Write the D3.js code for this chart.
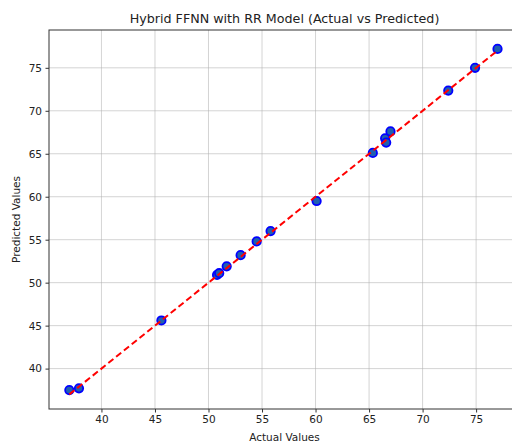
<!DOCTYPE html>
<html>
<head>
<meta charset="utf-8">
<script src="https://cdn.jsdelivr.net/npm/d3@7"></script>
<style>
  body { margin: 0; background: #fff; }
  svg { display: block; font-family: "DejaVu Sans", sans-serif; }
</style>
</head>
<body>
<svg id="chart" width="512" height="444"></svg>
<script>
// actual vs predicted
const actual    = [37.0, 37.9, 45.6, 50.8, 51.0, 51.7, 53.0, 54.5, 55.8, 60.1, 65.35, 66.5, 66.6, 67.0, 72.4, 74.9, 77.0];
const predicted = [37.5, 37.7, 45.6, 50.9, 51.1, 51.9, 53.2, 54.8, 56.0, 59.5, 65.1, 66.8, 66.3, 67.6, 72.35, 75.0, 77.2];
const xTicks = [40, 45, 50, 55, 60, 65, 70, 75];
const yTicks = [40, 45, 50, 55, 60, 65, 70, 75];

const points = actual.map((a, i) => ({ a, p: predicted[i] }));

const svg = d3.select("#chart");
const plot = { left: 49, right: 520, top: 30, bottom: 409 };

const x = d3.scaleLinear().domain([35.1, 79.1]).range([plot.left, plot.right]);
const y = d3.scaleLinear().domain([35.3, 79.4]).range([plot.bottom, plot.top]);

// grid
svg.append("g").selectAll("line").data(xTicks).join("line")
  .attr("x1", d => x(d)).attr("x2", d => x(d))
  .attr("y1", plot.top).attr("y2", plot.bottom)
  .attr("stroke", "#b0b0b0").attr("stroke-opacity", 0.55).attr("stroke-width", 1);
svg.append("g").selectAll("line").data(yTicks).join("line")
  .attr("y1", d => y(d)).attr("y2", d => y(d))
  .attr("x1", plot.left).attr("x2", plot.right)
  .attr("stroke", "#b0b0b0").attr("stroke-opacity", 0.55).attr("stroke-width", 1);

// axes
const xAxis = svg.append("g")
  .attr("transform", `translate(0,${plot.bottom})`)
  .call(d3.axisBottom(x).tickValues(xTicks).tickSize(3.5).tickPadding(3.5));
const yAxis = svg.append("g")
  .attr("transform", `translate(${plot.left},0)`)
  .call(d3.axisLeft(y).tickValues(yTicks).tickSize(3.5).tickPadding(3.5));

[xAxis, yAxis].forEach(g => {
  g.select(".domain").remove();
  g.selectAll("line").attr("stroke", "#333");
  g.selectAll("text").attr("font-size", 10.5).attr("fill", "#222")
    .attr("font-family", "DejaVu Sans, sans-serif");
});

// frame
svg.append("rect")
  .attr("x", plot.left).attr("y", plot.top)
  .attr("width", plot.right - plot.left).attr("height", plot.bottom - plot.top)
  .attr("fill", "none").attr("stroke", "#333").attr("stroke-width", 1);

// points
svg.append("g").selectAll("circle").data(points).join("circle")
  .attr("cx", d => x(d.a)).attr("cy", d => y(d.p))
  .attr("r", 4.2)
  .attr("fill", "#1f5fb0")
  .attr("stroke", "#0000ff").attr("stroke-width", 1.8);

// perfect fit line
const lo = d3.min(actual), hi = d3.max(actual);
svg.append("line")
  .attr("x1", x(lo)).attr("y1", y(lo))
  .attr("x2", x(hi)).attr("y2", y(hi))
  .attr("stroke", "#ff0000").attr("stroke-width", 2)
  .attr("stroke-dasharray", "6.5,3.5");

// labels
svg.append("text")
  .attr("x", (plot.left + plot.right) / 2).attr("y", 23)
  .attr("text-anchor", "middle").attr("font-size", 12.7).attr("fill", "#222")
  .text("Hybrid FFNN with RR Model (Actual vs Predicted)");
svg.append("text")
  .attr("x", (plot.left + plot.right) / 2).attr("y", 441)
  .attr("text-anchor", "middle").attr("font-size", 10.5).attr("fill", "#222")
  .text("Actual Values");
svg.append("text")
  .attr("transform", `translate(20,${(plot.top + plot.bottom) / 2}) rotate(-90)`)
  .attr("text-anchor", "middle").attr("font-size", 10.5).attr("fill", "#222")
  .text("Predicted Values");
</script>
</body>
</html>
